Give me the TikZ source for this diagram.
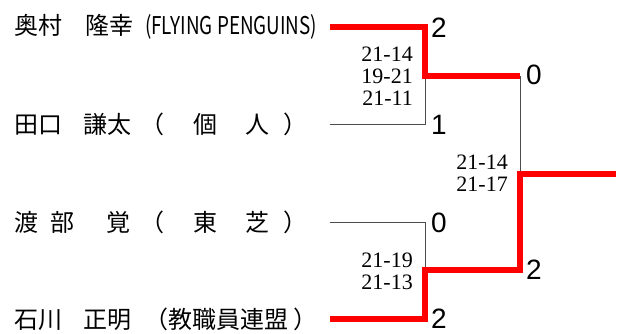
\documentclass[tikz,border=0pt]{standalone}
\usepackage{fontspec}
\usepackage{graphicx}
\newfontfamily\cjk{Noto Sans CJK JP}
\newfontfamily\numfont{Liberation Sans}
\newfontfamily\gamefont{Liberation Serif}
\begin{document}
\begin{tikzpicture}[x=1pt,y=-1pt,
  namebox/.style={anchor=west,inner sep=0pt,font=\cjk\fontsize{24}{24}\selectfont},
  scorebox/.style={anchor=west,inner sep=0pt,font=\numfont\fontsize{28}{28}\selectfont},
  gamebox/.style={anchor=east,inner sep=0pt,align=right,font=\gamefont\fontsize{22}{22}\selectfont},
  thinline/.style={draw=black!70,line width=1pt},
  winline/.style={draw=red,line width=5.5pt,line join=miter}]
\useasboundingbox (0,0) rectangle (621,334);
% names
\node[namebox] (n1) at (14,27) {奥村\hspace{23pt}隆幸\hspace{12pt}\resizebox{172pt}{20pt}{(FLYING PENGUINS)}};
\node[namebox] (n2) at (14,124) {田口\hspace{21pt}謙太\hspace{9pt}（\hspace{29pt}個\hspace{28pt}人\hspace{14pt}）};
\node[namebox] (n3) at (14,222) {渡\hspace{12pt}部\hspace{32pt}覚\hspace{10pt}（\hspace{29pt}東\hspace{28pt}芝\hspace{14pt}）};
\node[namebox] (n4) at (14,319) {石川\hspace{21pt}正明\hspace{13pt}（教職員連盟\hspace{5pt}）};
% bracket points
\coordinate (e1) at (330,27);
\coordinate (e2) at (330,125);
\coordinate (e3) at (330,222);
\coordinate (e4) at (330,319);
\coordinate (c1) at (425,27);
\coordinate (c2) at (425,125);
\coordinate (c3) at (425,222);
\coordinate (c4) at (425,319);
\coordinate (m1) at (425,76);
\coordinate (m2) at (425,270);
\coordinate (k1) at (520,76);
\coordinate (k2) at (520,270);
\coordinate (f) at (520,174);
\coordinate (w) at (616,174);
% losers (thin)
\draw[thinline] (e2) -- (c2) -- (m1);
\draw[thinline] (e3) -- (c3) -- (m2);
\draw[thinline] (k1) -- (f);
% winners (red)
\draw[winline] (e1) -- (c1) -- (m1) -- (k1);
\draw[winline] (e4) -- (c4) -- (m2) -- (k2) -- (f) -- (w);
% scores
\node[scorebox] (s1) at (431,28) {2};
\node[scorebox] (s2) at (526,75) {0};
\node[scorebox] (s3) at (431,125) {1};
\node[scorebox] (s4) at (431,223) {0};
\node[scorebox] (s5) at (526,270) {2};
\node[scorebox] (s6) at (431,319) {2};
% game scores
\node[gamebox] (g1) at (413,76.5) {21-14\\19-21\\21-11};
\node[gamebox] (g2) at (508,173) {21-14\\21-17};
\node[gamebox] (g3) at (413,271.5) {21-19\\21-13};
\end{tikzpicture}
\end{document}
